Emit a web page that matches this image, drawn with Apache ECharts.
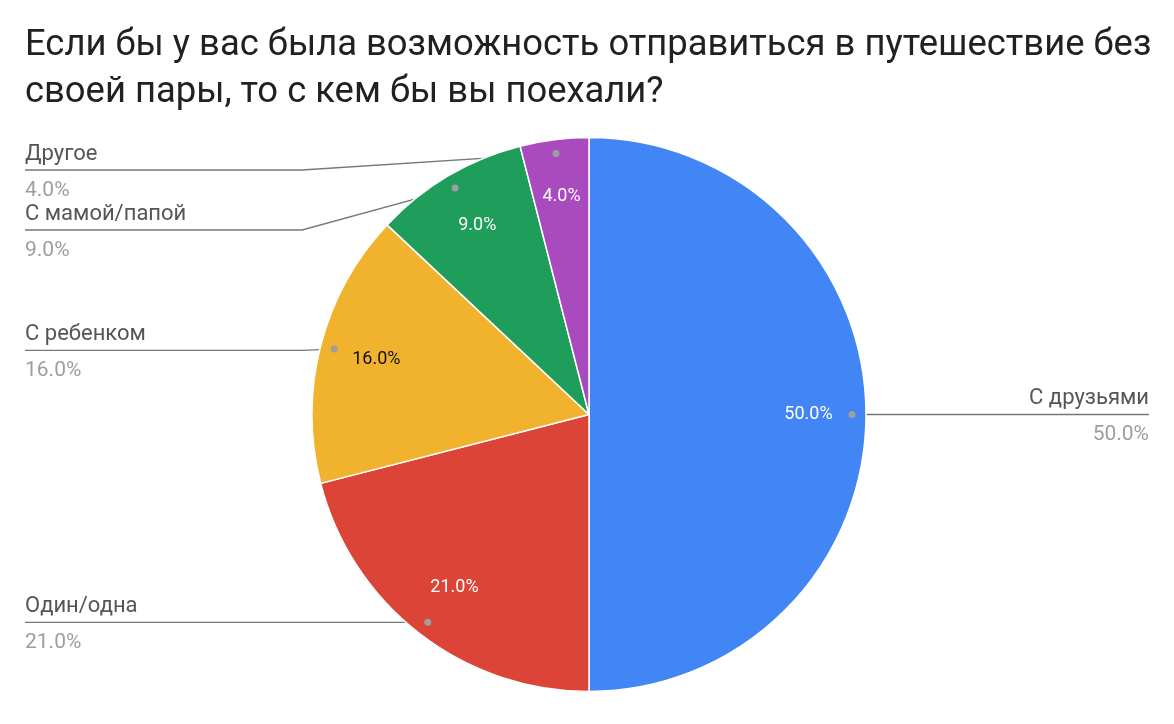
<!DOCTYPE html>
<html>
<head>
<meta charset="utf-8">
<script src="https://cdn.jsdelivr.net/npm/echarts@6/dist/echarts.min.js"></script>
<style>
html, body { margin: 0; padding: 0; background: #fff; }
#container { width: 1174px; height: 724px; }
</style>
</head>
<body>
<div id="container"></div>
<script>
// data
var categories = ['С друзьями', 'Один/одна', 'С ребенком', 'С мамой/папой', 'Другое'];
var shares = [50, 21, 16, 9, 4];
var titleLines = [
    'Если бы у вас была возможность отправиться в путешествие без',
    'своей пары, то с кем бы вы поехали?'
];

// styling
var sliceColors = ['#4285f4', '#db4437', '#f1b22d', '#1f9d5a', '#a94bbf'];
var insideTextColors = ['#ffffff', '#ffffff', '#111111', '#ffffff', '#ffffff'];
var FONT = 'Roboto';
var EDGE = 25;      // labels sit this far from the chart sides
var ELBOW = 302;    // where the left leader lines turn horizontal
var R = 277;
// the top label starts a little lower so it clears the pie's top edge
var lineNudge = {'Другое': -15};

var dom = document.getElementById('container');
var myChart = echarts.init(dom);

var box = {left: 0, top: 137, width: 1174, height: 555};
var center = [589, '50%'];
var clear = {color: 'rgba(0,0,0,0)', borderWidth: 0};

function pct(p) {
    return p.percent.toFixed(1) + '%';
}

function makeData(withStyle) {
    return categories.map(function (name, i) {
        var item = {name: name, value: shares[i]};
        if (withStyle) {
            item.itemStyle = {color: sliceColors[i]};
            item.label = {color: insideTextColors[i]};
        }
        return item;
    });
}

option = {
    backgroundColor: '#ffffff',
    animation: false,
    title: {
        text: titleLines.join('\n'),
        left: EDGE,
        top: 22,
        padding: 0,
        textStyle: {
            fontFamily: FONT,
            fontSize: 36.4,
            fontWeight: 'normal',
            color: '#212121',
            lineHeight: 47
        }
    },
    series: [
        {
            // the pie itself
            name: 'slices',
            type: 'pie',
            left: box.left, top: box.top, width: box.width, height: box.height,
            center: center,
            radius: [0, R],
            silent: true,
            label: {show: false},
            labelLine: {show: false},
            itemStyle: {borderColor: '#ffffff', borderWidth: 1.5},
            data: makeData(true).map(function (d) { delete d.label; return d; })
        },
        {
            // percentages inside the slices
            name: 'inside',
            type: 'pie',
            left: box.left, top: box.top, width: box.width, height: box.height,
            center: center,
            radius: [156, R],
            silent: true,
            itemStyle: clear,
            label: {
                show: true,
                position: 'inside',
                formatter: pct,
                fontFamily: FONT,
                fontSize: 18
            },
            labelLine: {show: false},
            data: makeData(true).map(function (d) { d.itemStyle = clear; return d; })
        },
        {
            // names and percentages outside, with leader lines
            name: 'outside',
            type: 'pie',
            left: box.left, top: box.top + 5, width: box.width, height: box.height - 10,
            center: center,
            radius: [0, 263],
            silent: true,
            itemStyle: clear,
            avoidLabelOverlap: true,
            label: {
                show: true,
                position: 'outside',
                alignTo: 'edge',
                edgeDistance: EDGE,
                formatter: function (p) {
                    return '{name|' + p.name + '}\n{per|' + pct(p) + '}';
                },
                rich: {
                    name: {fontFamily: FONT, fontSize: 22, color: '#555555', lineHeight: 30},
                    per: {fontFamily: FONT, fontSize: 21, color: '#9e9e9e', lineHeight: 32, verticalAlign: 'bottom'}
                }
            },
            labelLine: {
                show: true,
                length: 0,
                length2: 0,
                lineStyle: {color: '#777777', width: 1.3}
            },
            labelLayout: function (params) {
                var pts = params.labelLinePoints;
                if (!pts) return {};
                var y = pts[2][1];
                var start = pts[0];
                var w = myChart.getWidth();
                var isLeft = start[0] < w / 2;
                return {
                    labelLinePoints: isLeft
                        ? [start, [Math.min(ELBOW, start[0]), y], [EDGE, y]]
                        : [start, [start[0] + 1, y], [w - EDGE, y]]
                };
            },
            data: makeData(false).map(function (d) {
                if (lineNudge[d.name] != null) d.labelLine = {length: lineNudge[d.name]};
                return d;
            })
        },
        {
            // grey dots where the leader lines start
            name: 'dots',
            type: 'pie',
            left: box.left, top: box.top, width: box.width, height: box.height,
            center: center,
            radius: [255, 265],
            silent: true,
            itemStyle: clear,
            label: {
                show: true,
                position: 'inside',
                formatter: '{dot|}',
                rich: {
                    dot: {width: 7, height: 7, borderRadius: 3.5, backgroundColor: '#9e9e9e'}
                }
            },
            labelLine: {show: false},
            data: makeData(false)
        }
    ]
};

if (option && typeof option === 'object') {
    myChart.setOption(option, true);
}
</script>
</body>
</html>
